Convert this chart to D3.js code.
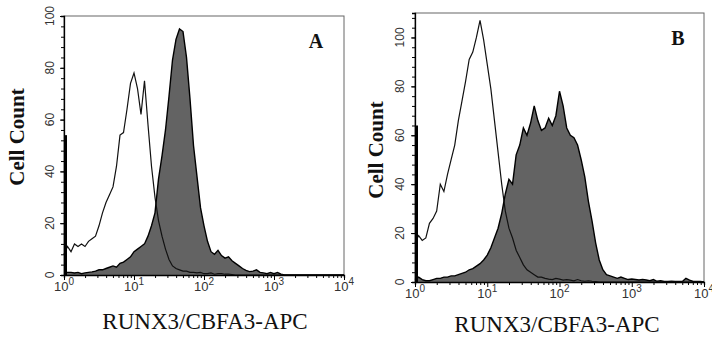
<!DOCTYPE html>
<html><head><meta charset="utf-8">
<script src="https://cdn.jsdelivr.net/npm/d3@7"></script>
<style>
body{margin:0;background:#fff;}
svg{display:block;}
</style></head>
<body>
<svg id="chart" width="712" height="337"></svg>
<script>
// Histogram bins: log10 fluorescence from 0 to 4 in steps of 0.05 decade
const binStep = 0.05;

// Panel A
const openA = [8,11,9,12,11,12,11,13,14,15,19,24,28,31,34,42,54,55,64,74,78,72,62,75,58,42,30,21,15,10,6,3.5,2.5,2,1.5,1.5,1,1,0.8,1,0.5,0.5,0.8,0.3,0.5,0.5,0.3,0.3,0.2,0,0,0,0,0,0,0,0,0,0,0,0,0,0,0,0,0,0,0,0,0,0,0,0,0,0,0,0,0,0,0,0];
const filledA = [1,1,1,0.8,1,0.5,0.8,1,1.2,1.5,2,2,2.5,3,3.5,3,4.5,5,6,7,9,10,11,12,15,19,24,37,46,56,69,83,91,95,94,84,68,50,38,26,19,13,9,8,9.5,7.5,6.5,7,5.5,4.5,3.5,2.5,1.8,1.3,1.5,2,1,0.8,0.5,1,0.5,1,0.3,0,0,0,0,0,0,0,0,0,0,0,0,0,0,0,0,0,0];
const pileupA = 54;

// Panel B
const openB = [16,19,17,18,24,26,29,40,37,44,50,56,66,74,82,91,94,100,107,99,89,79,66,53,40,29,22,18,13,10,7,5,4,3,2,2,1.5,1.2,1,1.5,1.2,0.8,1,0.8,0.5,1,0.5,0.3,0.5,0.3,0.2,0,0,0,0,0,0,0,0,0,0,0,0,0,0,0,0,0,0,0,0,0,0,0,0,0,0,0,0,0,0];
const filledB = [1,2,1,0.5,0.5,1,1.5,1.5,2,2,2.5,2.5,3,3.5,4,5,5.5,6.5,7.5,9,11,14,18,22,28,36,42,40,52,56,63,60,65,72,66,62,63,67,64,68,78,72,63,60,59,56,50,43,33,25,16,9,5,3,2.5,2,1.5,2,1.5,1,1.2,1,0.8,1,0.8,0.5,1,0.3,0.5,0.2,0.2,0.3,0.2,0.2,0.2,1.5,0.8,0.2,0.2,0.2,0];
const pileupB = 64;

const yTicksMajor = [0,20,40,60,80,100];
const xTickExponents = [0,1,2,3,4];
const xTitle = "RUNX3/CBFA3-APC";
const yTitle = "Cell Count";

const svg = d3.select("#chart");

function panel(cfg){
  const {x, y, open, filled, pileup, letter, letterPos, ytickX, xtickY, xTitlePos, yTitlePos} = cfg;
  const g = svg.append("g");
  const pts = (arr) => arr.map((v,i)=>({x:Math.pow(10, i*binStep), v}));
  const area = d3.area().x(d=>x(d.x)).y0(y(0)).y1(d=>y(d.v));
  const line = d3.line().x(d=>x(d.x)).y(d=>y(d.v));

  const [x0,x1] = x.range(), [y0,y1] = y.range();
  g.append("rect").attr("x",x0).attr("y",y1).attr("width",x1-x0).attr("height",y0-y1)
    .attr("fill","none").attr("stroke","#666").attr("stroke-width",1);

  g.append("path").datum(pts(filled)).attr("d",area)
    .attr("fill","#636363").attr("stroke","none");
  g.append("path").datum(pts(filled)).attr("d",line)
    .attr("fill","none").attr("stroke","#000").attr("stroke-width",1.4);
  g.append("path").datum(pts(open)).attr("d",line)
    .attr("fill","none").attr("stroke","#111").attr("stroke-width",1.2);
  g.append("line").attr("x1",x(1)+1.5).attr("x2",x(1)+1.5).attr("y1",y(0)).attr("y2",y(pileup))
    .attr("stroke","#000").attr("stroke-width",3);

  const yMinor = d3.range(0, y.domain()[1]+0.01, 4);
  g.append("g").attr("transform",`translate(${x0},0)`)
    .call(d3.axisLeft(y).tickValues(yMinor).tickSize(3).tickFormat(""))
    .call(a=>a.select(".domain").attr("stroke","#000").attr("stroke-width",1.3));
  g.append("g").attr("transform",`translate(${x0},0)`)
    .call(d3.axisLeft(y).tickValues(yTicksMajor).tickSize(4).tickFormat(""))
    .call(a=>a.select(".domain").remove());
  g.selectAll(".ylab").data(yTicksMajor).enter().append("text")
    .attr("transform",d=>`translate(${ytickX},${y(d)}) rotate(-90)`)
    .attr("text-anchor","middle").attr("dy","0.35em")
    .attr("font-family","Liberation Sans, Arial, sans-serif").attr("font-size",12).attr("fill","#333")
    .text(d=>d);

  const xMajor = xTickExponents.map(e=>Math.pow(10,e));
  const xMinor = [];
  xTickExponents.slice(0,-1).forEach(e=>{ for(let k=2;k<=9;k++) xMinor.push(k*Math.pow(10,e)); });
  g.append("g").attr("transform",`translate(0,${y0})`)
    .call(d3.axisBottom(x).tickValues(xMinor).tickSize(3).tickFormat(""))
    .call(a=>a.select(".domain").attr("stroke","#000").attr("stroke-width",1.3));
  g.append("g").attr("transform",`translate(0,${y0})`)
    .call(d3.axisBottom(x).tickValues(xMajor).tickSize(5).tickFormat(""))
    .call(a=>a.select(".domain").remove());
  const xl = g.selectAll(".xlab").data(xTickExponents).enter().append("text")
    .attr("x",d=>x(Math.pow(10,d))).attr("y",xtickY)
    .attr("text-anchor","middle")
    .attr("font-family","Liberation Sans, Arial, sans-serif").attr("font-size",13).attr("fill","#333");
  xl.append("tspan").text("10");
  xl.append("tspan").attr("dy",-6).attr("font-size",10).text(d=>d);

  g.append("text").attr("x",xTitlePos[0]).attr("y",xTitlePos[1]).attr("text-anchor","middle")
    .attr("font-family","Liberation Serif, Times New Roman, serif").attr("font-size",23).attr("fill","#111")
    .text(xTitle);
  g.append("text").attr("transform",`translate(${yTitlePos[0]},${yTitlePos[1]}) rotate(-90)`)
    .attr("text-anchor","middle")
    .attr("font-family","Liberation Serif, Times New Roman, serif").attr("font-weight","bold").attr("font-size",21).attr("fill","#111")
    .text(yTitle);
  g.append("text").attr("x",letterPos[0]).attr("y",letterPos[1]).attr("text-anchor","middle")
    .attr("font-family","Liberation Serif, Times New Roman, serif").attr("font-weight","bold").attr("font-size",20).attr("fill","#111")
    .text(letter);
}

panel({
  x: d3.scaleLog().domain([1,1e4]).range([64,344]),
  y: d3.scaleLinear().domain([0,100]).range([275,16]),
  open: openA, filled: filledA, pileup: pileupA, letter: "A",
  letterPos:[316,48], ytickX:50, xtickY:291, xTitlePos:[205,329], yTitlePos:[24,137]
});
panel({
  x: d3.scaleLog().domain([1,1e4]).range([415,704]),
  y: d3.scaleLinear().domain([0,110]).range([282,13]),
  open: openB, filled: filledB, pileup: pileupB, letter: "B",
  letterPos:[678,45], ytickX:400, xtickY:298, xTitlePos:[557,332], yTitlePos:[383,150]
});
</script>
</body></html>
